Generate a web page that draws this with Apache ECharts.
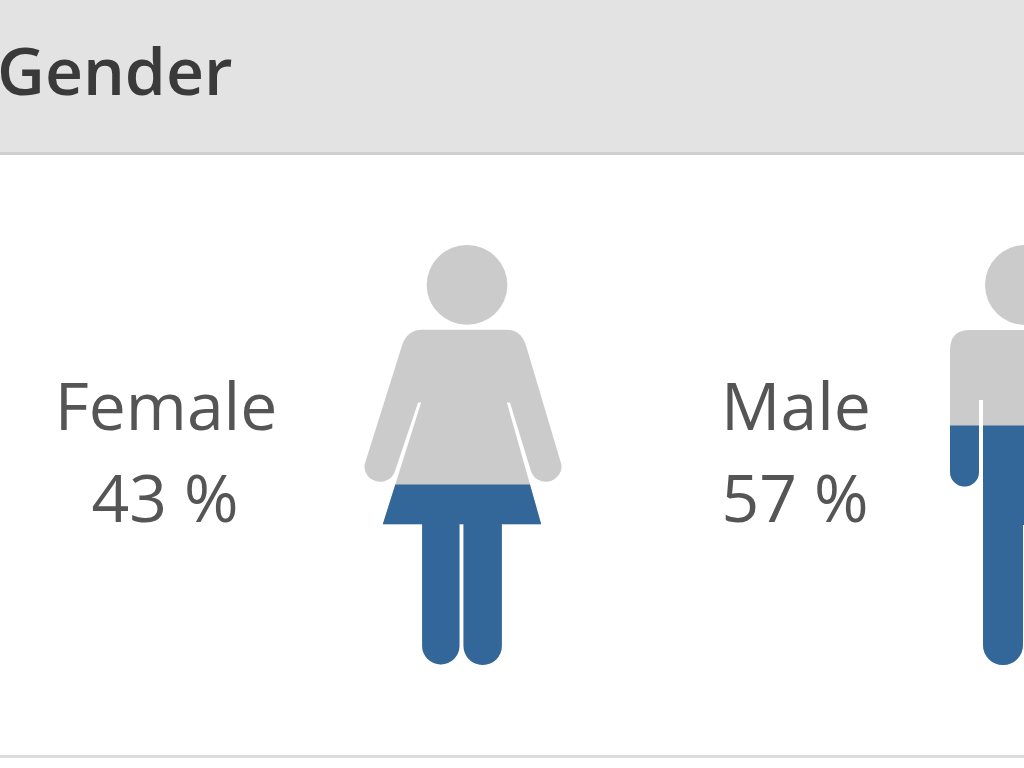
<!DOCTYPE html>
<html>
<head>
<meta charset="utf-8">
<style>html,body{margin:0;padding:0;background:#fff}#c{width:1024px;height:768px}</style>
<script src="https://cdn.jsdelivr.net/npm/echarts@6/dist/echarts.min.js"></script>
</head>
<body>
<div id="c"></div>
<script>
const chartTitle = 'Gender';
const categories = ['Female', 'Male'];
const percentages = [43, 57];
const fullScale = [100, 100];

const femalePath = 'path://M467.5 245A40 40 0 1 1 467.49 245Z' +
  'M423 330L507 330Q521 330 526 346L561 465A15.5 15.5 0 0 1 531 472L510 403L507 403L541 525L502 525L502 647A19 19 0 0 1 464 647L464 525L460 525L460 647A18.5 18.5 0 0 1 423 647L423 525L384 525L422 403L419 403L396 472A15.5 15.5 0 0 1 366 465L403 346Q408 330 423 330Z';
const malePath = 'path://M1025 245A40 40 0 1 1 1024.99 245Z' +
  'M970 330L1080 330Q1100 330 1100 350L1100 472A14.5 14.5 0 0 1 1071 472L1071 400L1067 400L1067 645A20 20 0 0 1 1027 645L1027 525L1023 525L1023 645A20 20 0 0 1 983 645L983 400L979 400L979 472A14.5 14.5 0 0 1 950 472L950 350Q950 330 970 330Z';
const figurePaths = [femalePath, malePath];
const figureSizes = [[197, 420], [150, 420]];

const labelCentres = [166, 796];
const chart = echarts.init(document.getElementById('c'), null, {renderer: 'canvas'});

const labelTexts = [];
categories.forEach((name, i) => {
  labelTexts.push({type: 'text', x: labelCentres[i], y: 411, style: {text: name, fill: '#555', font: '400 66px "Open Sans"', align: 'center', verticalAlign: 'middle'}});
  labelTexts.push({type: 'text', x: labelCentres[i] - 1, y: 503, style: {text: percentages[i] + ' %', fill: '#555', font: '400 66px "Open Sans"', align: 'center', verticalAlign: 'middle'}});
});

function figureData(values) {
  return values.map((v, i) => ({value: v, symbol: figurePaths[i], symbolSize: figureSizes[i]}));
}

chart.setOption({
  animation: false,
  backgroundColor: '#fff',
  grid: {left: 182, width: 1124, top: 245, height: 420, outerBoundsMode: 'none'},
  xAxis: {type: 'category', data: categories, show: false},
  yAxis: {type: 'value', min: 0, max: 100, show: false},
  graphic: [
    {type: 'rect', z: -1, shape: {x: 0, y: 0, width: 1024, height: 153}, style: {fill: '#e3e3e3'}},
    {type: 'rect', z: -1, shape: {x: 0, y: 152, width: 1024, height: 3}, style: {fill: '#cfcfcf'}},
    {type: 'rect', z: -1, shape: {x: 0, y: 755, width: 1024, height: 3}, style: {fill: '#dcdcdc'}},
    {type: 'text', x: -3, y: 76, style: {text: chartTitle, fill: '#3a3a3a', font: '600 66px "Open Sans"', align: 'left', verticalAlign: 'middle'}},
    ...labelTexts
  ],
  series: [
    {type: 'pictorialBar', barWidth: 200, barGap: '-100%', z: 2, silent: true,
     symbolPosition: 'start', symbolBoundingData: 100, itemStyle: {color: '#cbcbcb'},
     data: figureData(fullScale)},
    {type: 'pictorialBar', barWidth: 200, barGap: '-100%', z: 3, silent: true,
     symbolPosition: 'start', symbolClip: true, symbolBoundingData: 100, itemStyle: {color: '#336699'},
     data: figureData(percentages)}
  ]
});
</script>
</body>
</html>
